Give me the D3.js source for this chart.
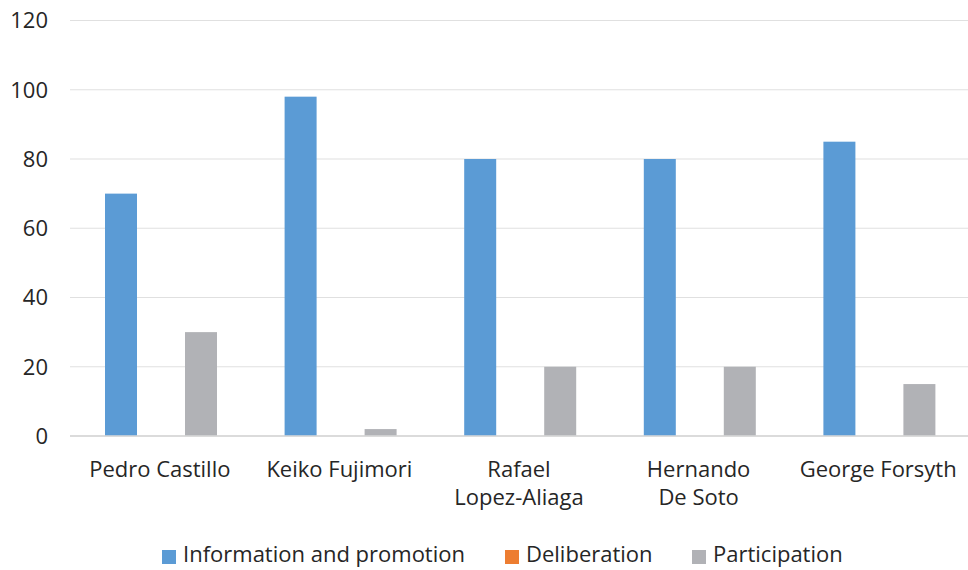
<!DOCTYPE html>
<html>
<head>
<meta charset="utf-8">
<script src="https://cdn.jsdelivr.net/npm/d3@7"></script>
<style>
  body { margin: 0; background: #fff; }
  svg { font-family: "Open Sans", Lato, sans-serif; }
</style>
</head>
<body>
<svg id="chart" width="968" height="570"></svg>
<script>
// Data
const categories = [
	["Pedro Castillo"],
	["Keiko Fujimori"],
	["Rafael", "Lopez-Aliaga"],
	["Hernando", "De Soto"],
	["George Forsyth"],
];
const seriesNames = ["Information and promotion", "Deliberation", "Participation"];
const infoValues = [70, 98, 80, 80, 85];
const delibValues = [0, 0, 0, 0, 0];
const partValues = [30, 2, 20, 20, 15];
const yTicks = [0, 20, 40, 60, 80, 100, 120];

const colors = ["#5b9bd5", "#ed7d31", "#b1b2b6"];

function whenDocumentLoaded(action) {
	if (document.readyState === "loading") {
		document.addEventListener("DOMContentLoaded", action);
	} else {
		action();
	}
}

function drawChart() {
	const svg = d3.select("#chart");
	const margin = { left: 70, right: 0, top: 20.5, bottom: 134 };
	const width = 968, height = 570;
	const fontSize = 22;

	const x = d3.scaleBand()
		.domain(d3.range(categories.length))
		.range([margin.left, width - margin.right])
		.paddingInner(0)
		.paddingOuter(0);

	const inner = d3.scaleBand()
		.domain(d3.range(seriesNames.length))
		.range([35, 147])
		.paddingInner(0.2);

	const y = d3.scaleLinear().domain([0, 120]).range([height - margin.bottom, margin.top]);

	// Gridlines
	svg.append("g")
		.selectAll("line")
		.data(yTicks)
		.join("line")
		.attr("x1", margin.left)
		.attr("x2", width - margin.right)
		.attr("y1", (d) => y(d))
		.attr("y2", (d) => y(d))
		.attr("stroke", (d) => (d === 0 ? "#d9d9d9" : "#e0e0e0"))
		.attr("stroke-width", (d) => (d === 0 ? 1.5 : 1.2));

	// Y tick labels
	svg.append("g")
		.selectAll("text")
		.data(yTicks)
		.join("text")
		.attr("x", 48)
		.attr("y", (d) => y(d))
		.attr("dy", "0.36em")
		.attr("text-anchor", "end")
		.attr("font-size", fontSize)
		.attr("fill", "#262626")
		.text((d) => d);

	// Bars
	const allValues = [infoValues, delibValues, partValues];
	const groups = svg.append("g")
		.selectAll("g")
		.data(categories.map((c, i) => i))
		.join("g")
		.attr("transform", (i) => `translate(${x(i)},0)`);

	groups.selectAll("rect")
		.data((i) => allValues.map((vals, s) => ({ s, v: vals[i] })))
		.join("rect")
		.attr("x", (d) => inner(d.s))
		.attr("width", inner.bandwidth())
		.attr("y", (d) => y(d.v))
		.attr("height", (d) => y(0) - y(d.v))
		.attr("fill", (d) => colors[d.s]);

	// redraw baseline over bars
	svg.append("line")
		.attr("x1", margin.left)
		.attr("x2", width - margin.right)
		.attr("y1", y(0))
		.attr("y2", y(0))
		.attr("stroke", "#d9d9d9")
		.attr("stroke-width", 1.5);

	// Category labels
	svg.append("g")
		.selectAll("text")
		.data(categories)
		.join("text")
		.attr("x", (d, i) => x(i) + x.bandwidth() / 2)
		.attr("y", 477)
		.attr("text-anchor", "middle")
		.attr("font-size", fontSize)
		.attr("fill", "#262626")
		.selectAll("tspan")
		.data((d) => d)
		.join("tspan")
		.attr("x", function () { return this.parentNode.getAttribute("x"); })
		.attr("dy", (d, j) => (j === 0 ? 0 : 28))
		.text((d) => d);

	// Legend
	const legendX = [162, 505, 692];
	const legend = svg.append("g")
		.selectAll("g")
		.data(seriesNames)
		.join("g")
		.attr("transform", (d, i) => `translate(${legendX[i]},557)`);
	legend.append("rect")
		.attr("x", 0)
		.attr("y", -7)
		.attr("width", 14)
		.attr("height", 14)
		.attr("fill", (d, i) => colors[i]);
	legend.append("text")
		.attr("x", 21)
		.attr("y", 5)
		.attr("font-size", fontSize)
		.attr("fill", "#262626")
		.text((d) => d);
}

whenDocumentLoaded(drawChart);
</script>
</body>
</html>
